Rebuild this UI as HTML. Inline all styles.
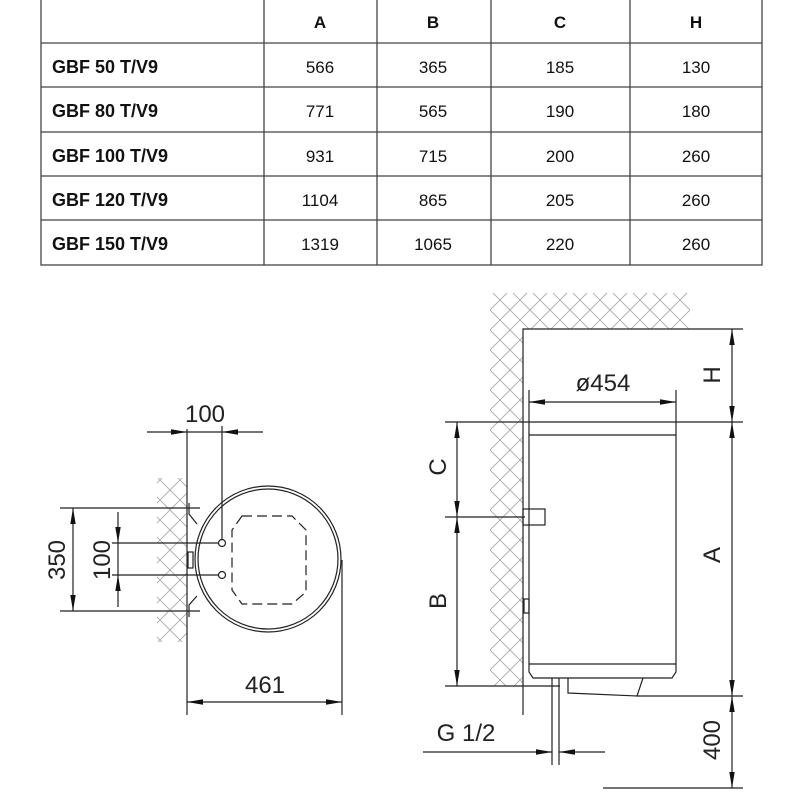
<!DOCTYPE html>
<html><head><style>
html,body{margin:0;padding:0;background:#fff;}
svg{display:block;}
.t{font-family:"Liberation Sans",sans-serif;}
</style></head><body>
<svg width="800" height="800" viewBox="0 0 800 800" xmlns="http://www.w3.org/2000/svg">
<defs>
<pattern id="h" width="20" height="20" patternUnits="userSpaceOnUse">
<path d="M0 0L20 20M20 0L0 20" stroke="#aaa" stroke-width="0.9"/>
</pattern>
<marker id="a" viewBox="0 0 16 6" refX="16" refY="3" markerWidth="16" markerHeight="6" orient="auto-start-reverse" markerUnits="userSpaceOnUse">
<path d="M0 0.3L16 3L0 5.7Z" fill="#111"/>
</marker>
</defs>

<!-- TABLE -->
<g stroke="#444" stroke-width="1.3" fill="none">
<rect x="41" y="-2" width="721" height="267"/>
<line x1="41" y1="43" x2="762" y2="43"/>
<line x1="41" y1="87" x2="762" y2="87"/>
<line x1="41" y1="132" x2="762" y2="132"/>
<line x1="41" y1="176" x2="762" y2="176"/>
<line x1="41" y1="220" x2="762" y2="220"/>
<line x1="264" y1="-2" x2="264" y2="265"/>
<line x1="377" y1="-2" x2="377" y2="265"/>
<line x1="491" y1="-2" x2="491" y2="265"/>
<line x1="630" y1="-2" x2="630" y2="265"/>
</g>
<g class="t" font-size="17" fill="#111" text-anchor="middle">
<g font-weight="bold"><text x="320" y="28">A</text><text x="433" y="28">B</text><text x="560" y="28">C</text><text x="696" y="28">H</text></g>
<g font-weight="bold" text-anchor="start" font-size="18">
<text x="52" y="73">GBF 50 T/V9</text>
<text x="52" y="117">GBF 80 T/V9</text>
<text x="52" y="162">GBF 100 T/V9</text>
<text x="52" y="206">GBF 120 T/V9</text>
<text x="52" y="250">GBF 150 T/V9</text>
</g>
<g font-size="17">
<text x="320" y="73">566</text><text x="433" y="73">365</text><text x="560" y="73">185</text><text x="696" y="73">130</text>
<text x="320" y="117">771</text><text x="433" y="117">565</text><text x="560" y="117">190</text><text x="696" y="117">180</text>
<text x="320" y="162">931</text><text x="433" y="162">715</text><text x="560" y="162">200</text><text x="696" y="162">260</text>
<text x="320" y="206">1104</text><text x="433" y="206">865</text><text x="560" y="206">205</text><text x="696" y="206">260</text>
<text x="320" y="250">1319</text><text x="433" y="250">1065</text><text x="560" y="250">220</text><text x="696" y="250">260</text>
</g>
</g>

<!-- LEFT VIEW -->
<rect x="157" y="478" width="30" height="164" fill="url(#h)"/>
<g stroke="#222" stroke-width="1.2" fill="none">
<line x1="187" y1="429" x2="187" y2="715"/>
<line x1="147" y1="432" x2="187" y2="432" marker-end="url(#a)"/>
<line x1="187" y1="432" x2="222" y2="432"/>
<line x1="263" y1="432" x2="222" y2="432" marker-end="url(#a)"/>
<line x1="222" y1="426" x2="222" y2="540"/>
<circle cx="268" cy="559" r="73"/>
<circle cx="268" cy="559" r="70"/>
<path d="M242 516 L292 516 L306 530 L306 592 L292 604 L242 604 L232 590 L232 530 Z" stroke-dasharray="10 5"/>
<circle cx="222" cy="543" r="3.5"/>
<circle cx="222" cy="575" r="3.5"/>
<line x1="60" y1="508" x2="200" y2="508"/>
<line x1="60" y1="611" x2="200" y2="611"/>
<line x1="73" y1="559" x2="73" y2="508" marker-end="url(#a)"/>
<line x1="73" y1="559" x2="73" y2="611" marker-end="url(#a)"/>
<line x1="112" y1="543" x2="219" y2="543"/>
<line x1="112" y1="575" x2="219" y2="575"/>
<line x1="118" y1="512" x2="118" y2="543" marker-end="url(#a)"/>
<line x1="118" y1="607" x2="118" y2="575" marker-end="url(#a)"/>
<line x1="118" y1="543" x2="118" y2="575"/>
<path d="M189 503 L189 514 L197 524 M189 617 L189 605 L197 596"/>
<rect x="188" y="552" width="5" height="16"/>
<line x1="342" y1="560" x2="342" y2="715"/>
<line x1="265" y1="702" x2="187" y2="702" marker-end="url(#a)"/>
<line x1="265" y1="702" x2="342" y2="702" marker-end="url(#a)"/>
</g>
<g class="t" font-size="24" fill="#222" text-anchor="middle">
<text x="205" y="422">100</text>
<text x="265" y="693">461</text>
<text transform="translate(65,560) rotate(-90)">350</text>
<text transform="translate(110,560) rotate(-90)">100</text>
</g>

<!-- RIGHT VIEW -->
<path d="M490 293 H690 V329 H523 V686 H490 Z" fill="url(#h)"/>
<g stroke="#222" stroke-width="1.2" fill="none">
<path d="M523 715 V329 H743"/>
<line x1="445" y1="422" x2="743" y2="422"/>
<path d="M529 390 V672 L533 678 H672 L676 672 V390"/>
<line x1="529" y1="435" x2="676" y2="435"/>
<line x1="529" y1="664" x2="676" y2="664"/>
<line x1="603" y1="402" x2="529" y2="402" marker-end="url(#a)"/>
<line x1="603" y1="402" x2="676" y2="402" marker-end="url(#a)"/>
<line x1="732" y1="375" x2="732" y2="329" marker-end="url(#a)"/>
<line x1="732" y1="375" x2="732" y2="422" marker-end="url(#a)"/>
<line x1="732" y1="555" x2="732" y2="422" marker-end="url(#a)"/>
<line x1="732" y1="555" x2="732" y2="696" marker-end="url(#a)"/>
<line x1="732" y1="740" x2="732" y2="696" marker-end="url(#a)"/>
<line x1="732" y1="740" x2="732" y2="788" marker-end="url(#a)"/>
<line x1="603" y1="788" x2="743" y2="788"/>
<path d="M568 678 V693 L637 696 L643 678"/>
<line x1="637" y1="696" x2="743" y2="696"/>
<line x1="457" y1="470" x2="457" y2="422" marker-end="url(#a)"/>
<line x1="457" y1="470" x2="457" y2="517" marker-end="url(#a)"/>
<line x1="457" y1="600" x2="457" y2="517" marker-end="url(#a)"/>
<line x1="457" y1="600" x2="457" y2="686" marker-end="url(#a)"/>
<line x1="445" y1="517" x2="525" y2="517"/>
<rect x="523" y="509" width="22" height="16"/>
<rect x="524" y="599" width="5" height="14"/>
<line x1="445" y1="686" x2="560" y2="686"/>
<line x1="552" y1="678" x2="552" y2="765"/>
<line x1="559" y1="678" x2="559" y2="765"/>
<line x1="423" y1="752" x2="552" y2="752" marker-end="url(#a)"/>
<line x1="605" y1="752" x2="559" y2="752" marker-end="url(#a)"/>
</g>
<g class="t" font-size="24" fill="#222" text-anchor="middle">
<text x="603" y="391">ø454</text>
<text x="466" y="741">G 1/2</text>
<text transform="translate(720,375) rotate(-90)">H</text>
<text transform="translate(720,555) rotate(-90)">A</text>
<text transform="translate(720,740) rotate(-90)">400</text>
<text transform="translate(446,467) rotate(-90)">C</text>
<text transform="translate(446,601) rotate(-90)">B</text>
</g>
</svg>
</body></html>
